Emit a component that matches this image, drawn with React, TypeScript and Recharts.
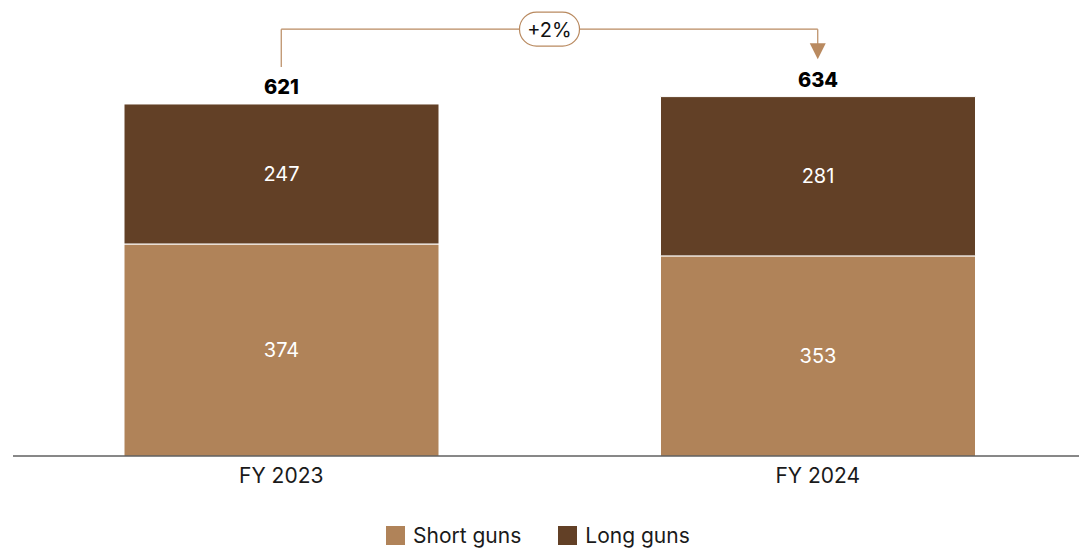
import { BarChart, Bar, XAxis, YAxis, LabelList, ReferenceLine, ReferenceDot } from 'recharts';

/* ── data ─────────────────────────────────────────────── */
const years = ['FY 2023', 'FY 2024'];
const shortGuns = [374, 353];
const longGuns = [247, 281];
const totals = [621, 634];
const changeLabel = '+2%';

const SHORT = '#b08359';
const LONG = '#624026';
const LINE = '#b98a60';
const FONT = 'Inter, "Noto Sans", sans-serif';

/* annotation levels, in value units */
const BRACKET_Y = 753;
const LEFT_END_Y = 686;
const ARROW_TOP_Y = 727;

const data = years.map((year, i) => ({
  year,
  short: shortGuns[i],
  long: longGuns[i],
  total: totals[i],
}));

function TotalLabel(props: any) {
  const { x, y, width, index } = props;
  return (
    <text x={x + width / 2} y={y - 17} textAnchor="middle" dominantBaseline="central"
      fontFamily={FONT} fontSize={20} fontWeight={800} fill="#000">
      {totals[index]}
    </text>
  );
}

function PillLabel(props: any) {
  const { viewBox } = props;
  const cx = viewBox.x + viewBox.width / 2;
  const cy = viewBox.y;
  return (
    <g>
      <rect x={cx - 30} y={cy - 17} width={60} height={34} rx={17} fill="#fff" stroke={LINE} strokeWidth={1.2} />
      <text x={cx} y={cy + 1} textAnchor="middle" dominantBaseline="central"
        fontFamily={FONT} fontSize={20} fill="#111">{changeLabel}</text>
    </g>
  );
}

function Arrow(props: any) {
  const { cx, cy } = props;
  return <path d={`M${cx - 8},${cy - 8} L${cx + 8},${cy - 8} L${cx},${cy + 8} Z`} fill={LINE} />;
}

export default function App() {
  return (
    <div style={{ position: 'relative', width: 1079, height: 550, overflow: 'hidden', background: '#fff' }}>
      <style>{`body{margin:0;overflow:hidden}`}</style>
      <BarChart width={1086} height={550} data={data}
        margin={{ top: 2.5, right: 0, bottom: 64, left: 13 }}>
        <XAxis dataKey="year" height={30} tickLine={false} tickSize={0} tickMargin={12}
          axisLine={{ stroke: '#111', strokeWidth: 1 }}
          tick={{ fill: '#1a1a1a', fontSize: 21, fontFamily: FONT }} />
        <YAxis hide domain={[0, 800]} />
        <Bar dataKey="short" stackId="a" fill={SHORT} stroke="#fff" strokeWidth={1} barSize={315} isAnimationActive={false}>
          <LabelList dataKey="short" position="center" fill="#fff" fontSize={20} fontFamily={FONT} />
        </Bar>
        <Bar dataKey="long" stackId="a" fill={LONG} stroke="#fff" strokeWidth={1} barSize={315} isAnimationActive={false}>
          <LabelList dataKey="long" position="center" fill="#fff" fontSize={20} fontFamily={FONT} />
          <LabelList dataKey="total" content={TotalLabel} />
        </Bar>
        <ReferenceLine ifOverflow="visible" stroke={LINE} strokeWidth={1.2}
          segment={[{ x: years[0], y: LEFT_END_Y }, { x: years[0], y: BRACKET_Y }]} />
        <ReferenceLine ifOverflow="visible" stroke={LINE} strokeWidth={1.2}
          segment={[{ x: years[0], y: BRACKET_Y }, { x: years[1], y: BRACKET_Y }]}
          label={<PillLabel />} />
        <ReferenceLine ifOverflow="visible" stroke={LINE} strokeWidth={1.2}
          segment={[{ x: years[1], y: BRACKET_Y }, { x: years[1], y: ARROW_TOP_Y }]} />
        <ReferenceDot ifOverflow="visible" x={years[1]} y={ARROW_TOP_Y - 13} shape={<Arrow />} />
      </BarChart>
      <div style={{ position: 'absolute', top: 525, left: 386, display: 'flex', alignItems: 'center',
        fontFamily: FONT, fontSize: 21, color: '#1a1a1a', lineHeight: '21px' }}>
        <span style={{ width: 19, height: 19, background: SHORT, display: 'inline-block', marginRight: 8 }} />
        <span style={{ marginRight: 37 }}>Short guns</span>
        <span style={{ width: 19, height: 19, background: LONG, display: 'inline-block', marginRight: 8 }} />
        <span>Long guns</span>
      </div>
    </div>
  );
}
